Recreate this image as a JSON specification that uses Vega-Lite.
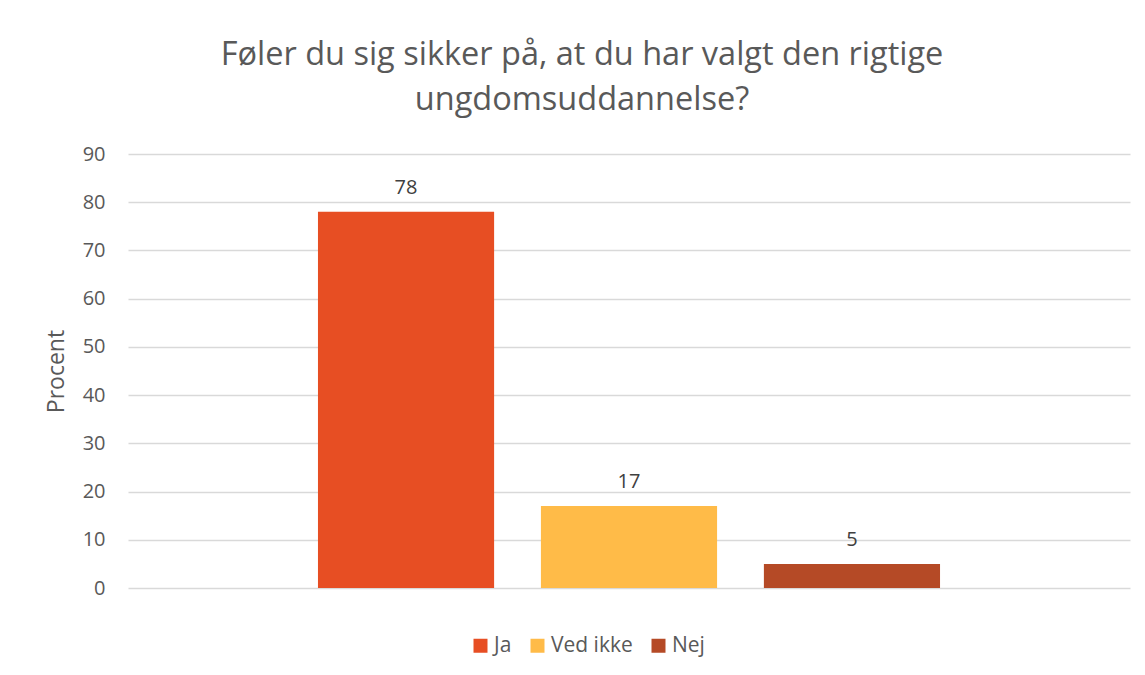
{
  "$schema": "https://vega.github.io/schema/vega-lite/v6.json",
  "width": 1002,
  "height": 434,
  "autosize": {"type": "none"},
  "padding": {"left": 128, "top": 154, "right": 15, "bottom": 87},
  "background": "white",
  "title": {
    "text": ["Føler du sig sikker på, at du har valgt den rigtige", "ungdomsuddannelse?"],
    "anchor": "middle",
    "frame": "group",
    "dx": -47,
    "offset": 28,
    "font": "Open Sans",
    "fontSize": 32.5,
    "fontWeight": "normal",
    "color": "#595959",
    "lineHeight": 45
  },
  "data": {
    "values": [
      {"svar": "Ja", "procent": 78},
      {"svar": "Ved ikke", "procent": 17},
      {"svar": "Nej", "procent": 5}
    ]
  },
  "encoding": {
    "x": {
      "field": "svar",
      "type": "nominal",
      "sort": ["Ja", "Ved ikke", "Nej"],
      "scale": {"paddingInner": 0.21, "paddingOuter": 0.852},
      "axis": null
    },
    "y": {
      "field": "procent",
      "type": "quantitative",
      "scale": {"domain": [0, 90]},
      "axis": {
        "title": "Procent",
        "values": [0, 10, 20, 30, 40, 50, 60, 70, 80, 90],
        "domain": false,
        "ticks": false,
        "labelPadding": 23,
        "labelFont": "Open Sans",
        "labelFontSize": 20,
        "labelColor": "#595959",
        "titleFont": "Open Sans",
        "titleFontSize": 23,
        "titleFontWeight": "normal",
        "titleColor": "#595959",
        "titlePadding": 14,
        "gridColor": "#d9d9d9",
        "gridWidth": 1.5
      }
    }
  },
  "layer": [
    {
      "mark": {"type": "bar"},
      "encoding": {
        "color": {
          "field": "svar",
          "type": "nominal",
          "sort": ["Ja", "Ved ikke", "Nej"],
          "scale": {"domain": ["Ja", "Ved ikke", "Nej"], "range": ["#E74E23", "#FFBB48", "#B54A26"]},
          "legend": {
            "title": null,
            "orient": "none",
            "direction": "horizontal",
            "legendX": 342,
            "legendY": 481,
            "symbolType": "square",
            "symbolSize": 196,
            "symbolStrokeWidth": 0,
            "symbolOpacity": 1,
            "labelFont": "Open Sans",
            "labelFontSize": 21,
            "labelColor": "#595959",
            "labelOffset": 3,
            "columnPadding": 15
          }
        }
      }
    },
    {
      "mark": {"type": "text", "baseline": "alphabetic", "dy": -18, "font": "Open Sans", "fontSize": 20, "color": "#404040"},
      "encoding": {"text": {"field": "procent", "type": "quantitative"}}
    }
  ],
  "config": {"view": {"stroke": null}}
}
